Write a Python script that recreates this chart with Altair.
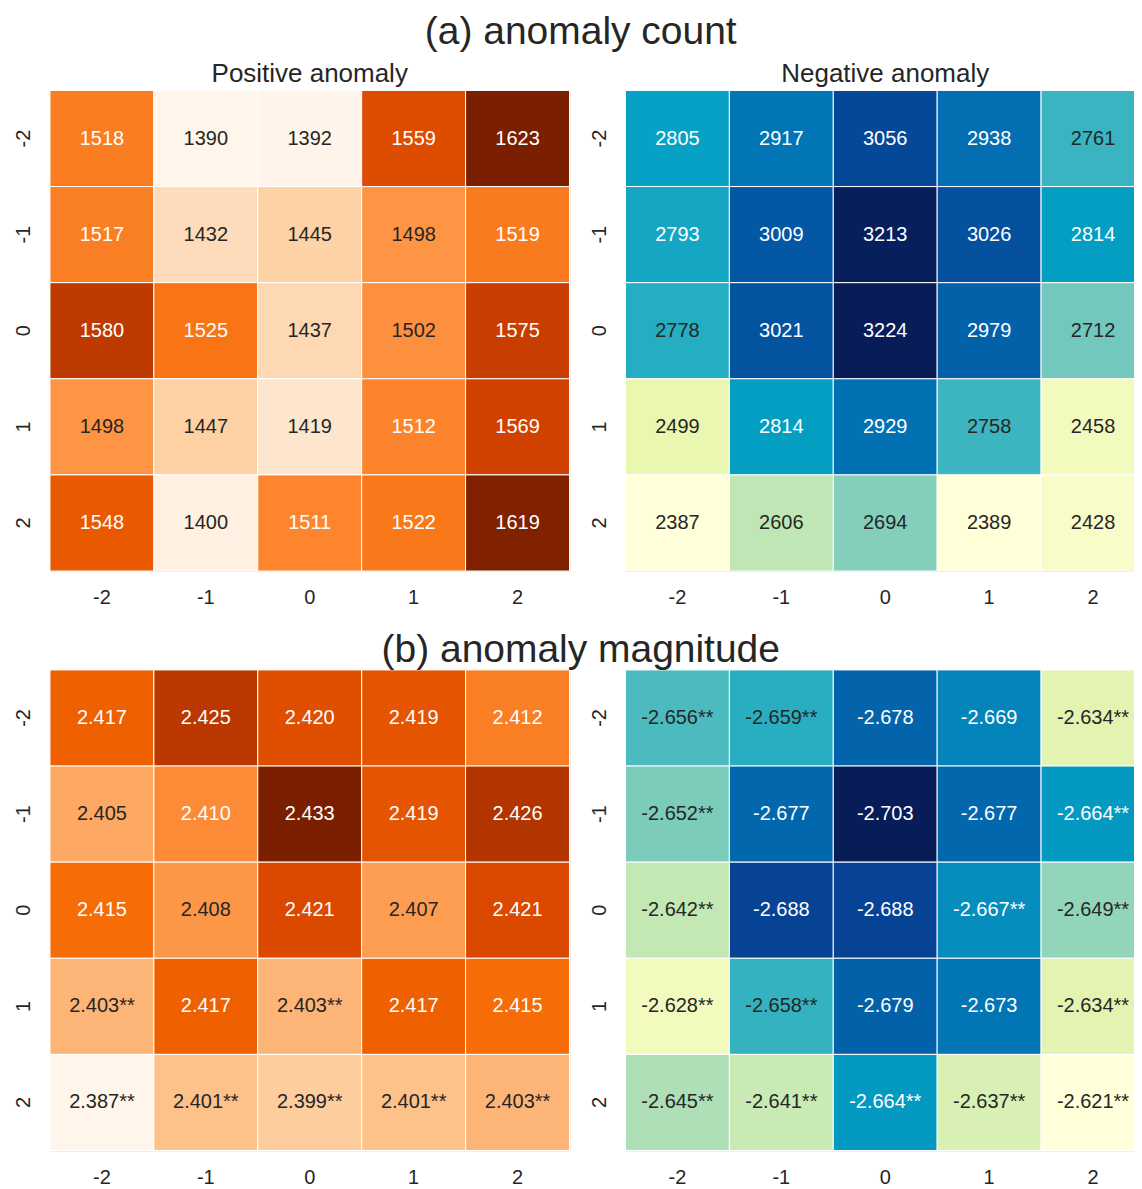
import altair as alt
import pandas as pd

FONT = "Liberation Sans"
INK = "#262626"

ticks = ["-2", "-1", "0", "1", "2"]

# rows = y (-2 .. 2, top to bottom), columns = x (-2 .. 2)
count_pos = [
    [1518, 1390, 1392, 1559, 1623],
    [1517, 1432, 1445, 1498, 1519],
    [1580, 1525, 1437, 1502, 1575],
    [1498, 1447, 1419, 1512, 1569],
    [1548, 1400, 1511, 1522, 1619],
]
count_neg = [
    [2805, 2917, 3056, 2938, 2761],
    [2793, 3009, 3213, 3026, 2814],
    [2778, 3021, 3224, 2979, 2712],
    [2499, 2814, 2929, 2758, 2458],
    [2387, 2606, 2694, 2389, 2428],
]
mag_pos = [
    [2.417, 2.425, 2.420, 2.419, 2.412],
    [2.405, 2.410, 2.433, 2.419, 2.426],
    [2.415, 2.408, 2.421, 2.407, 2.421],
    [2.403, 2.417, 2.403, 2.417, 2.415],
    [2.387, 2.401, 2.399, 2.401, 2.403],
]
mag_pos_sig = [
    [0, 0, 0, 0, 0],
    [0, 0, 0, 0, 0],
    [0, 0, 0, 0, 0],
    [1, 0, 1, 0, 0],
    [1, 1, 1, 1, 1],
]
mag_neg = [
    [-2.656, -2.659, -2.678, -2.669, -2.634],
    [-2.652, -2.677, -2.703, -2.677, -2.664],
    [-2.642, -2.688, -2.688, -2.667, -2.649],
    [-2.628, -2.658, -2.679, -2.673, -2.634],
    [-2.645, -2.641, -2.664, -2.637, -2.621],
]
mag_neg_sig = [
    [1, 1, 0, 0, 1],
    [1, 0, 0, 0, 1],
    [1, 0, 0, 1, 1],
    [1, 1, 0, 0, 1],
    [1, 1, 1, 1, 1],
]

# colour maps (ColorBrewer 9-class) used to pick the annotation colour
ORANGES = ["#fff5eb", "#fee6ce", "#fdd0a2", "#fdae6b", "#fd8d3c",
           "#f16913", "#d94801", "#a63603", "#7f2704"]
YLGNBU = ["#ffffd9", "#edf8b1", "#c7e9b4", "#7fcdbb", "#41b6c4",
          "#1d91c0", "#225ea8", "#253494", "#081d58"]
# colours as they appear in the picture
ORANGES_DRAWN = ["#fff5eb", "#fee6ce", "#fdd0a2", "#fdae6b", "#fd8a36",
                 "#f56800", "#d84500", "#a83000", "#7a1f00"]
YLGNBU_DRAWN = ["#ffffd9", "#edf8b1", "#c7e9b4", "#7fcdbb", "#05a1c4",
                "#0277b6", "#0455a3", "#0a3388", "#081d58"]


def hex_rgb(h):
    h = h.lstrip("#")
    return [int(h[i:i + 2], 16) / 255 for i in (0, 2, 4)]


def cmap(stops, t):
    t = min(max(t, 0.0), 1.0)
    n = len(stops) - 1
    i = min(int(t * n), n - 1)
    f = t * n - i
    a, b = hex_rgb(stops[i]), hex_rgb(stops[i + 1])
    return [a[k] + (b[k] - a[k]) * f for k in range(3)]


def luminance(rgb):
    lin = [c / 12.92 if c <= 0.03928 else ((c + 0.055) / 1.055) ** 2.4 for c in rgb]
    return 0.2126 * lin[0] + 0.7152 * lin[1] + 0.0722 * lin[2]


def panel(values, sig, std_stops, drawn_stops, reverse, fmt, title=None):
    flat = [v for row in values for v in row]
    vmin, vmax = min(flat), max(flat)
    rows = []
    for r, yl in enumerate(ticks):
        for c, xl in enumerate(ticks):
            v = values[r][c]
            t = (v - vmin) / (vmax - vmin)
            if reverse:
                t = 1 - t
            lum = luminance(cmap(std_stops, t))
            lab = format(v, fmt)
            if sig is not None and sig[r][c]:
                lab += "**"
            rows.append({"x": xl, "y": yl, "v": v, "label": lab,
                         "tc": INK if lum > 0.408 else "#ffffff"})
    df = pd.DataFrame(rows)
    n = len(drawn_stops)
    dom = [vmin + (vmax - vmin) * k / (n - 1) for k in range(n)]
    rng = list(reversed(drawn_stops)) if reverse else list(drawn_stops)

    xenc = alt.X("x:N", sort=ticks,
                 scale=alt.Scale(paddingInner=0, paddingOuter=0),
                 axis=alt.Axis(title=None, labelAngle=0, labelFontSize=20,
                               labelFont=FONT, labelColor=INK, labelPadding=17,
                               ticks=False, tickSize=0, domain=False, grid=False))
    yenc = alt.Y("y:N", sort=ticks,
                 scale=alt.Scale(paddingInner=0, paddingOuter=0),
                 axis=alt.Axis(title=None, labelAngle=-90, labelAlign="center",
                               labelBaseline="alphabetic", labelFontSize=20,
                               labelFont=FONT, labelColor=INK, labelPadding=20,
                               ticks=False, tickSize=0, domain=False, grid=False))
    base = alt.Chart(df)
    rect = base.mark_rect(stroke="white", strokeWidth=1).encode(
        x=xenc, y=yenc,
        color=alt.Color("v:Q", legend=None,
                        scale=alt.Scale(domain=dom, range=rng, interpolate="rgb")),
    )
    text = base.mark_text(font=FONT, fontSize=20, baseline="middle").encode(
        x=alt.X("x:N", sort=ticks), y=alt.Y("y:N", sort=ticks),
        text="label:N",
        color=alt.Color("tc:N", scale=None),
    )
    props = dict(width=520, height=481)
    if title:
        props["title"] = alt.TitleParams(title, fontSize=26, fontWeight="normal",
                                         font=FONT, color=INK, offset=3,
                                         anchor="middle")
    return alt.layer(rect, text).resolve_scale(color="independent").properties(**props)


row_a = alt.hconcat(
    panel(count_pos, None, ORANGES, ORANGES_DRAWN, False, "d", "Positive anomaly"),
    panel(count_neg, None, YLGNBU, YLGNBU_DRAWN, False, "d", "Negative anomaly"),
    spacing=18,
).resolve_scale(color="independent").properties(
    title=alt.TitleParams("(a) anomaly count", fontSize=39, fontWeight="normal",
                          font=FONT, color=INK, offset=8, anchor="middle", dx=1))

row_b = alt.hconcat(
    panel(mag_pos, mag_pos_sig, ORANGES, ORANGES_DRAWN, False, ".3f"),
    panel(mag_neg, mag_neg_sig, YLGNBU, YLGNBU_DRAWN, True, ".3f"),
    spacing=18,
).resolve_scale(color="independent").properties(
    title=alt.TitleParams("(b) anomaly magnitude", fontSize=39, fontWeight="normal",
                          font=FONT, color=INK, offset=-1, anchor="middle", dx=1))

# the right-hand panels run off the edge of the picture: a negative right
# padding trims the drawing at the page edge instead of widening the page
chart = alt.vconcat(row_a, row_b, spacing=22).resolve_scale(
    color="independent").properties(
    padding={"left": 5, "top": 5, "right": -12, "bottom": 0}
).configure_view(stroke=None).configure(font=FONT)

chart.save("out.html", embed_options={"renderer": "svg", "actions": False})
